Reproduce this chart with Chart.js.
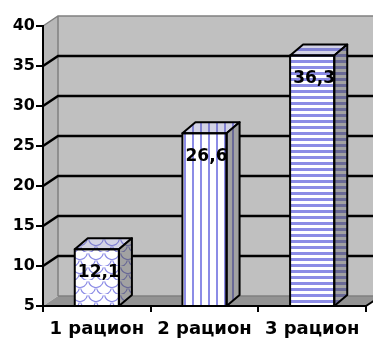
<!DOCTYPE html>
<html><head><meta charset="utf-8">
<script src="https://cdn.jsdelivr.net/npm/chart.js@4"></script>
<style>html,body{margin:0;padding:0;background:#fff;overflow:hidden}</style>
</head><body>
<canvas id="c" width="373" height="342"></canvas>
<script>
const categories = ['1 рацион', '2 рацион', '3 рацион'];
const values = [12.1, 26.6, 36.3];
const valueLabels = ['12,1', '26,6', '36,3'];
const yMin = 5, yMax = 40, yStep = 5;

const BLUE = '#8c8ce6';
function mkPattern(kind) {
  const c = document.createElement('canvas');
  const g = c.getContext('2d');
  if (kind === 'scale') {
    c.width = 16; c.height = 14;
    g.fillStyle = '#fff'; g.fillRect(0, 0, 16, 14);
    g.strokeStyle = BLUE; g.lineWidth = 1.2;
    [[0,0],[16,0],[8,7],[0,14],[16,14]].forEach(([cx, cy]) => {
      g.beginPath(); g.arc(cx, cy, 7.5, 0.2, Math.PI - 0.2); g.stroke();
    });
  } else if (kind === 'vert') {
    c.width = 8; c.height = 2;
    g.fillStyle = '#fff'; g.fillRect(0, 0, 8, 2);
    g.fillStyle = BLUE; g.fillRect(0, 0, 2, 2);
  } else {
    c.width = 2; c.height = 6;
    g.fillStyle = '#fff'; g.fillRect(0, 0, 2, 6);
    g.fillStyle = BLUE; g.fillRect(0, 0, 2, 3);
  }
  return g.createPattern(c, 'repeat');
}
const canvas = document.getElementById('c');
const patterns = [mkPattern('scale'), mkPattern('vert'), mkPattern('horiz')];

const WD = {dx: 15, dy: 10};   // wall depth
const BD = {dx: 13, dy: 11};   // bar depth

function poly(ctx, pts) {
  ctx.beginPath();
  ctx.moveTo(pts[0][0], pts[0][1]);
  for (let i = 1; i < pts.length; i++) ctx.lineTo(pts[i][0], pts[i][1]);
  ctx.closePath();
}

const plugin3d = {
  id: 'three',
  beforeDraw(chart) {
    const ctx = chart.ctx;
    const {left: L, right: R, top: T, bottom: B} = chart.chartArea;
    const ys = chart.scales.y;
    const dx = WD.dx, dy = WD.dy;
    ctx.save();
    ctx.fillStyle = '#c0c0c0';
    ctx.fillRect(L + dx, T - dy, R - L + 10, B - T);
    poly(ctx, [[L, T], [L + dx, T - dy], [L + dx, B - dy], [L, B]]);
    ctx.fillStyle = '#b8b8b8'; ctx.fill();
    poly(ctx, [[L, B], [L + dx, B - dy], [R + dx, B - dy], [R, B]]);
    ctx.fillStyle = '#939393'; ctx.fill();
    ctx.strokeStyle = '#808080'; ctx.lineWidth = 1.5;
    ctx.beginPath();
    ctx.moveTo(L, T); ctx.lineTo(L + dx, T - dy); ctx.lineTo(R + dx + 10, T - dy);
    ctx.moveTo(L + dx, T - dy); ctx.lineTo(L + dx, B - dy);
    ctx.moveTo(L + dx, B - dy); ctx.lineTo(R + dx, B - dy);
    ctx.stroke();
    ctx.strokeStyle = '#000'; ctx.lineWidth = 2;
    ctx.beginPath(); ctx.moveTo(R, B); ctx.lineTo(R + dx, B - dy); ctx.stroke();
    ctx.strokeStyle = '#000'; ctx.lineWidth = 2.5;
    for (let v = yMin + yStep; v < yMax; v += yStep) {
      const y = ys.getPixelForValue(v);
      ctx.beginPath();
      ctx.moveTo(L, y); ctx.lineTo(L + dx, y - dy); ctx.lineTo(R + dx + 10, y - dy);
      ctx.stroke();
    }
    ctx.restore();
  },
  afterDatasetsDraw(chart) {
    const ctx = chart.ctx;
    const B = chart.chartArea.bottom;
    const meta = chart.getDatasetMeta(0);
    const dx = BD.dx, dy = BD.dy;
    ctx.save();
    meta.data.forEach((bar, i) => {
      const p = bar.getProps(['x', 'y', 'width', 'base'], true);
      const x1 = p.x - p.width / 2, x2 = p.x + p.width / 2, top = p.y, bot = Math.min(p.base, B);
      poly(ctx, [[x1, top], [x1 + dx, top - dy], [x2 + dx, top - dy], [x2, top]]);
      ctx.fillStyle = patterns[i]; ctx.fill();
      ctx.fillStyle = 'rgba(110,110,170,0.3)'; ctx.fill();
      ctx.strokeStyle = '#000'; ctx.lineWidth = 2; ctx.lineJoin = 'round'; ctx.stroke();
      ctx.fillStyle = '#000';
      ctx.font = 'bold 17px "DejaVu Sans"';
      ctx.textAlign = 'center'; ctx.textBaseline = 'middle';
      ctx.fillText(valueLabels[i], p.x + 2, top + 23);
      poly(ctx, [[x2, top], [x2 + dx, top - dy], [x2 + dx, bot - dy], [x2, bot]]);
      ctx.fillStyle = patterns[i]; ctx.fill();
      ctx.fillStyle = 'rgba(70,70,70,0.5)'; ctx.fill();
      ctx.strokeStyle = '#000'; ctx.lineWidth = 2; ctx.stroke();
      ctx.strokeRect(x1, top, x2 - x1, bot - top);
    });
    ctx.restore();
  }
};

new Chart(canvas, {
  type: 'bar',
  data: {
    labels: categories,
    datasets: [{
      data: values,
      backgroundColor: patterns,
      borderColor: '#000',
      borderWidth: 0,
      categoryPercentage: 1,
      barPercentage: 0.41
    }]
  },
  options: {
    responsive: false,
    animation: false,
    events: [],
    layout: {padding: {top: 26, right: 7, left: 0, bottom: 0}},
    plugins: {legend: {display: false}, tooltip: {enabled: false}},
    scales: {
      y: {
        min: yMin, max: yMax,
        afterFit(s) { s.width = 43; },
        ticks: {stepSize: yStep, color: '#000', padding: 1, font: {family: 'DejaVu Sans', weight: 'bold', size: 16}},
        grid: {drawOnChartArea: false, drawTicks: true, tickLength: 7, color: '#000', lineWidth: 2},
        border: {display: true, color: '#000', width: 2}
      },
      x: {
        afterFit(s) { s.height = 36; },
        ticks: {color: '#000', padding: 7, font: {family: 'DejaVu Sans', weight: 'bold', size: 18}},
        grid: {drawOnChartArea: false, drawTicks: true, tickLength: 6, color: '#000', lineWidth: 2},
        border: {display: true, color: '#000', width: 2}
      }
    }
  },
  plugins: [plugin3d]
});
</script>
</body></html>
